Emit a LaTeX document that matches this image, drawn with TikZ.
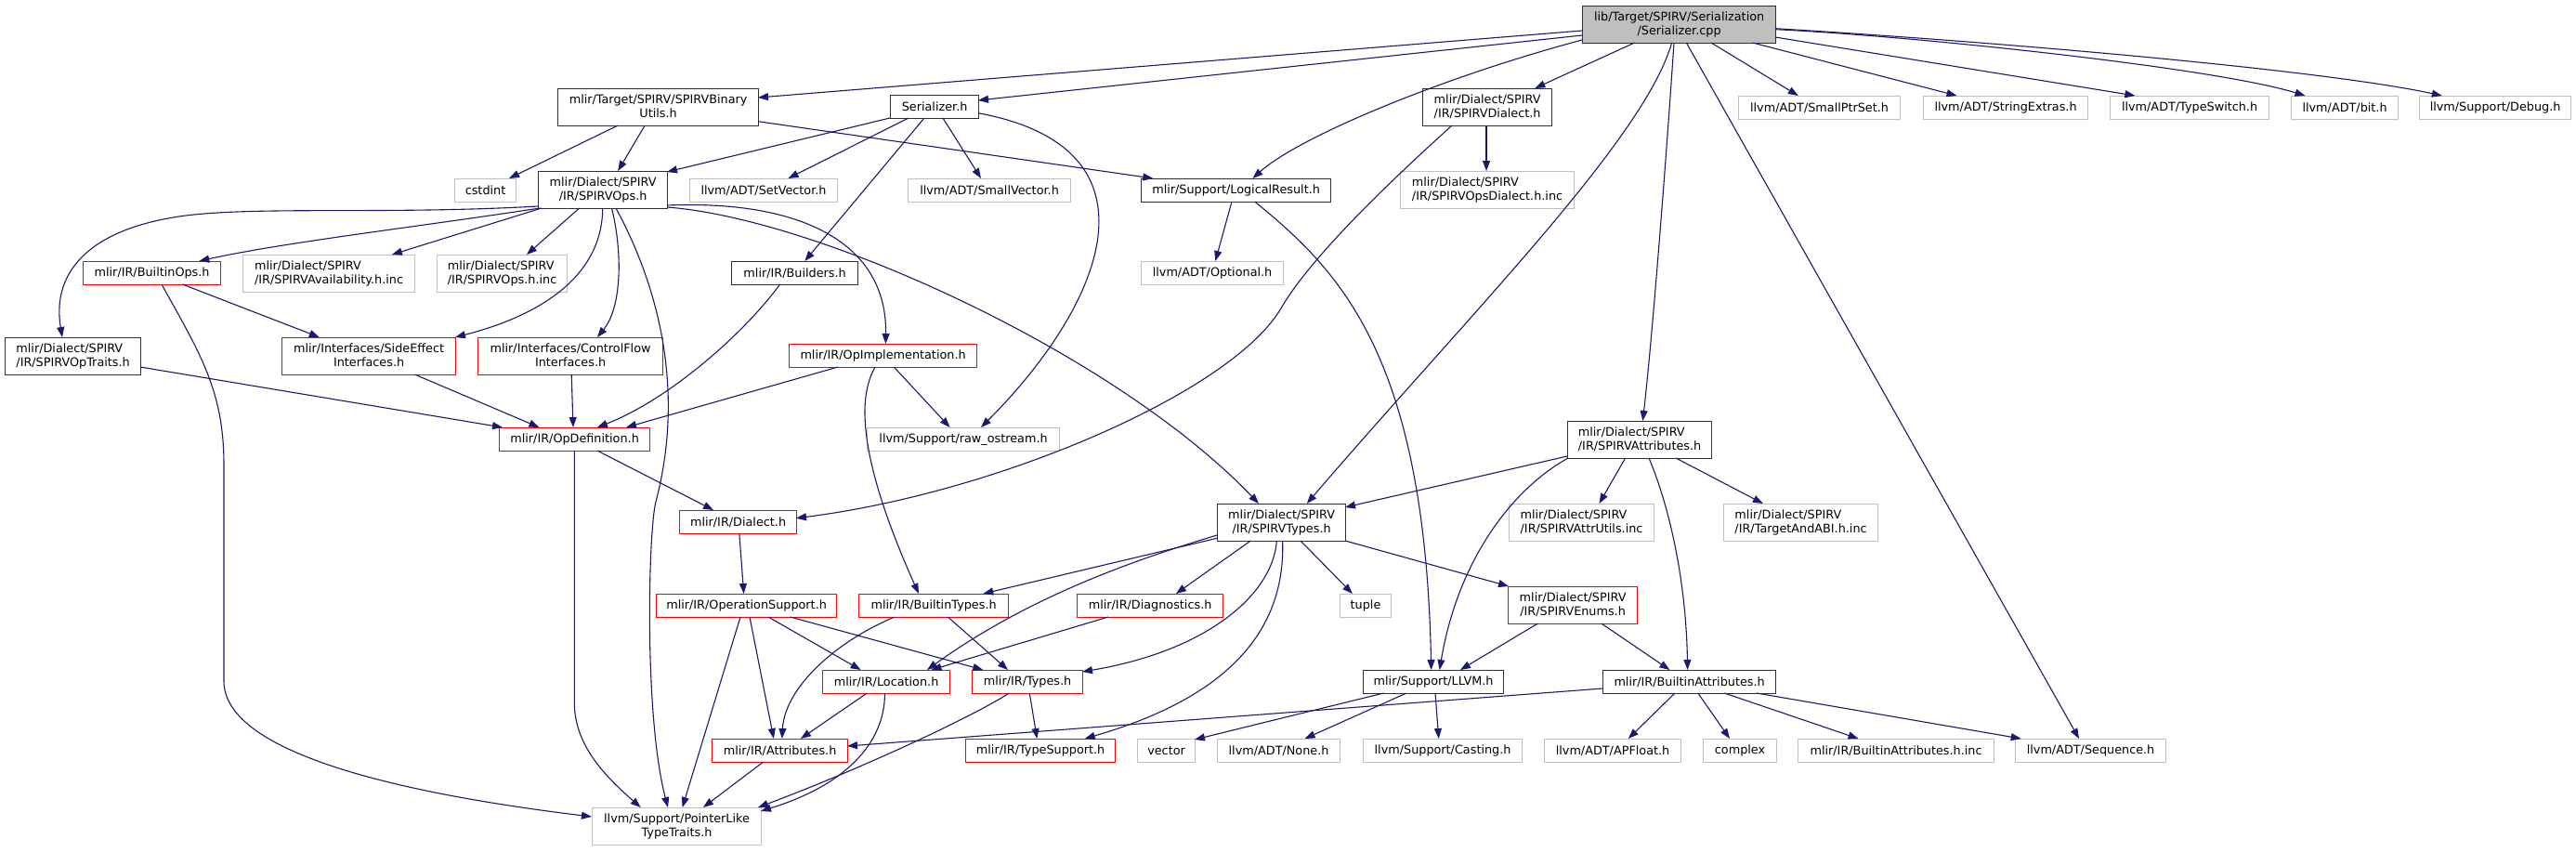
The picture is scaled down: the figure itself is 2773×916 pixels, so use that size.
\documentclass[tikz,border=0pt]{standalone}
\usepackage{fontspec}
\setmainfont{DejaVu Sans}
\usetikzlibrary{arrows.meta}
\definecolor{edgec}{HTML}{191970}
\definecolor{graybd}{HTML}{BFBFBF}
\definecolor{redbd}{HTML}{FF0000}
\definecolor{blackbd}{HTML}{303030}
\definecolor{rootfill}{HTML}{BFBFBF}
\newcommand{\twoline}[2]{\begin{tabular}{@{}l@{}}#1\\\multicolumn{1}{@{}c@{}}{#2}\end{tabular}}
\tikzset{
  basebox/.style={rectangle, anchor=north west, inner sep=0pt, fill=white, font=\fontsize{12.8}{15}\selectfont},
  bb/.style={basebox, draw=blackbd, line width=1.2pt},
  gb/.style={basebox, draw=graybd, line width=1.1pt},
  rb/.style={basebox, draw=redbd, line width=1.2pt},
  rootn/.style={basebox, draw=blackbd, line width=1.2pt, fill=rootfill},
  sl/.style={minimum height=25pt},
  dl/.style={minimum height=40pt},
  dep/.style={draw=edgec, line width=1.1pt, -{Triangle[length=11pt,width=8pt]}}
}
\begin{document}
\begin{tikzpicture}[x=1pt,y=-1pt]
\useasboundingbox[fill=white] (0,0) rectangle (2773,916);
% nodes
\node[rootn, dl, minimum width=208] (root) at (1703,6) {\twoline{lib/Target/SPIRV/Serialization}{/Serializer.cpp}};
\node[bb, dl, minimum width=216] (bin) at (600,95) {\twoline{mlir/Target/SPIRV/SPIRVBinary}{Utils.h}};
\node[bb, sl, minimum width=95] (ser) at (958,102) {Serializer.h};
\node[bb, dl, minimum width=139] (dialh) at (1531,95) {\twoline{mlir/Dialect/SPIRV}{/IR/SPIRVDialect.h}};
\node[gb, sl, minimum width=174] (smallptr) at (1871,103) {llvm/ADT/SmallPtrSet.h};
\node[gb, sl, minimum width=177] (strext) at (2070,103) {llvm/ADT/StringExtras.h};
\node[gb, sl, minimum width=171] (typesw) at (2271,103) {llvm/ADT/TypeSwitch.h};
\node[gb, sl, minimum width=115] (bit) at (2466,103) {llvm/ADT/bit.h};
\node[gb, sl, minimum width=163] (debug) at (2604,103) {llvm/Support/Debug.h};
\node[gb, sl, minimum width=66] (cstdint) at (489,192) {cstdint};
\node[bb, dl, minimum width=139] (ops) at (579,184) {\twoline{mlir/Dialect/SPIRV}{/IR/SPIRVOps.h}};
\node[gb, sl, minimum width=159] (setvec) at (742,192) {llvm/ADT/SetVector.h};
\node[gb, sl, minimum width=175] (smallvec) at (977,192) {llvm/ADT/SmallVector.h};
\node[bb, sl, minimum width=204] (logres) at (1228,192) {mlir/Support/LogicalResult.h};
\node[gb, dl, minimum width=187] (opsdial) at (1507,184) {\twoline{mlir/Dialect/SPIRV}{/IR/SPIRVOpsDialect.h.inc}};
\node[rb, sl, minimum width=148] (bops) at (89,281) {mlir/IR/BuiltinOps.h};
\node[gb, dl, minimum width=185] (avail) at (261,274) {\twoline{mlir/Dialect/SPIRV}{/IR/SPIRVAvailability.h.inc}};
\node[gb, dl, minimum width=140] (opsinc) at (470,274) {\twoline{mlir/Dialect/SPIRV}{/IR/SPIRVOps.h.inc}};
\node[bb, sl, minimum width=136] (builders) at (787,281) {mlir/IR/Builders.h};
\node[gb, sl, minimum width=153] (optional) at (1228,281) {llvm/ADT/Optional.h};
\node[bb, dl, minimum width=146] (traits) at (5,363) {\twoline{mlir/Dialect/SPIRV}{/IR/SPIRVOpTraits.h}};
\node[rb, dl, minimum width=187] (sideeff) at (303,363) {\twoline{mlir/Interfaces/SideEffect}{Interfaces.h}};
\node[rb, dl, minimum width=199] (ctrlflow) at (514,363) {\twoline{mlir/Interfaces/ControlFlow}{Interfaces.h}};
\node[rb, sl, minimum width=202] (opimpl) at (849,370) {mlir/IR/OpImplementation.h};
\node[rb, sl, minimum width=162] (opdef) at (537,460) {mlir/IR/OpDefinition.h};
\node[gb, sl, minimum width=207] (rawos) at (933,460) {llvm/Support/raw\_ostream.h};
\node[bb, dl, minimum width=155] (attrs) at (1687,453) {\twoline{mlir/Dialect/SPIRV}{/IR/SPIRVAttributes.h}};
\node[rb, sl, minimum width=126] (dialect) at (731,549) {mlir/IR/Dialect.h};
\node[bb, dl, minimum width=138] (types) at (1310,542) {\twoline{mlir/Dialect/SPIRV}{/IR/SPIRVTypes.h}};
\node[gb, dl, minimum width=156] (attrutils) at (1624,542) {\twoline{mlir/Dialect/SPIRV}{/IR/SPIRVAttrUtils.inc}};
\node[gb, dl, minimum width=166] (tabi) at (1855,542) {\twoline{mlir/Dialect/SPIRV}{/IR/TargetAndABI.h.inc}};
\node[rb, sl, minimum width=194] (opsup) at (706,639) {mlir/IR/OperationSupport.h};
\node[rb, sl, minimum width=161] (btypes) at (924,639) {mlir/IR/BuiltinTypes.h};
\node[rb, sl, minimum width=157] (diag) at (1159,639) {mlir/IR/Diagnostics.h};
\node[gb, sl, minimum width=55] (tuple) at (1442,639) {tuple};
\node[rb, dl, minimum width=139] (enums) at (1623,631) {\twoline{mlir/Dialect/SPIRV}{/IR/SPIRVEnums.h}};
\node[rb, sl, minimum width=137] (loc) at (885,721) {mlir/IR/Location.h};
\node[rb, sl, minimum width=119] (typesh) at (1046,721) {mlir/IR/Types.h};
\node[bb, sl, minimum width=151] (llvmh) at (1467,721) {mlir/Support/LLVM.h};
\node[bb, sl, minimum width=186] (battrs) at (1725,721) {mlir/IR/BuiltinAttributes.h};
\node[rb, sl, minimum width=146] (attrh) at (766,795) {mlir/IR/Attributes.h};
\node[rb, sl, minimum width=161] (tsup) at (1039,795) {mlir/IR/TypeSupport.h};
\node[gb, sl, minimum width=62] (vector) at (1224,795) {vector};
\node[gb, sl, minimum width=132] (none) at (1310,795) {llvm/ADT/None.h};
\node[gb, sl, minimum width=171] (casting) at (1467,795) {llvm/Support/Casting.h};
\node[gb, sl, minimum width=147] (apfloat) at (1662,795) {llvm/ADT/APFloat.h};
\node[gb, sl, minimum width=79] (complex) at (1833,795) {complex};
\node[gb, sl, minimum width=211] (binc) at (1935,795) {mlir/IR/BuiltinAttributes.h.inc};
\node[gb, sl, minimum width=162] (seq) at (2169,795) {llvm/ADT/Sequence.h};
\node[gb, dl, minimum width=182] (ptr) at (637,869) {\twoline{llvm/Support/PointerLike}{TypeTraits.h}};
% edges from root
\draw[dep] ([shift={(0,27)}]root.north west) -- ([shift={(216,10)}]bin.north west);
\draw[dep] ([shift={(0,32)}]root.north west) -- ([shift={(95,6)}]ser.north west);
\draw[dep] ([shift={(0,37)}]root.north west) .. controls +(-150,40) and +(50,-45) .. ([shift={(120.5,0)}]logres.north west);
\draw[dep] ([shift={(56.5,40)}]root.north west) -- ([shift={(121.3,0)}]dialh.north west);
\draw[dep] ([shift={(96.6,40)}]root.north west) .. controls +(-29.6,104) and +(173.2,-202) .. ([shift={(96.8,0)}]types.north west);
\draw[dep] ([shift={(99,40)}]root.north west) .. controls +(-7,104) and +(11.6,-103) .. ([shift={(81.4,0)}]attrs.north west);
\draw[dep] ([shift={(112.3,40)}]root.north west) -- ([shift={(69,0)}]seq.north west);
\draw[dep] ([shift={(139,40)}]root.north west) -- ([shift={(64.8,0)}]smallptr.north west);
\draw[dep] ([shift={(183.7,40)}]root.north west) -- ([shift={(36.5,0)}]strext.north west);
\draw[dep] ([shift={(208,34)}]root.north west) -- ([shift={(27.4,0)}]typesw.north west);
\draw[dep] ([shift={(208,25.7)}]root.north west) .. controls +(139,6.3) and +(-101.5,-31) .. ([shift={(15.5,0)}]bit.north west);
\draw[dep] ([shift={(208,24.7)}]root.north west) .. controls +(239,14.3) and +(-128.8,-28) .. ([shift={(24.8,0)}]debug.north west);
% bin
\draw[dep] ([shift={(65.2,40)}]bin.north west) -- ([shift={(59,0)}]cstdint.north west);
\draw[dep] ([shift={(94.2,40)}]bin.north west) -- ([shift={(86.2,0)}]ops.north west);
\draw[dep] ([shift={(216,35.7)}]bin.north west) -- ([shift={(13.3,0)}]logres.north west);
% ser
\draw[dep] ([shift={(0,25)}]ser.north west) -- ([shift={(139,1)}]ops.north west);
\draw[dep] ([shift={(20,25)}]ser.north west) -- ([shift={(106.5,0)}]setvec.north west);
\draw[dep] ([shift={(37,25)}]ser.north west) -- ([shift={(79.3,0)}]builders.north west);
\draw[dep] ([shift={(57,25)}]ser.north west) -- ([shift={(79,0)}]smallvec.north west);
\draw[dep] ([shift={(95,19.7)}]ser.north west) .. controls +(207,38.3) and +(130,-130) .. ([shift={(123,0)}]rawos.north west);
% dialh
\draw[dep] ([shift={(69,40)}]dialh.north west) -- ([shift={(93,0)}]opsdial.north west);
\draw[dep] ([shift={(32,40)}]dialh.north west) .. controls +(-83,75) and +(30,-50) .. ++(-183,195) .. controls +(-50,90) and +(220,-27.7) .. ([shift={(126,8.7)}]dialect.north west);
% logres
\draw[dep] ([shift={(98,25)}]logres.north west) -- ([shift={(80.3,0)}]optional.north west);
\draw[dep] ([shift={(122.7,25)}]logres.north west) .. controls +(89.3,73) and +(-6.7,-341) .. ([shift={(73.7,0)}]llvmh.north west);
% ops
\draw[dep] ([shift={(0,38)}]ops.north west) .. controls +(-159,9) and +(80,-10) .. ++(-379,10) .. controls +(-100,13) and +(-12,-73) .. ([shift={(62,0)}]traits.north west);
\draw[dep] ([shift={(2,40)}]ops.north west) .. controls +(-130,20) and +(90,-20) .. ([shift={(125.3,0)}]bops.north west);
\draw[dep] ([shift={(4,40)}]ops.north west) -- ([shift={(160.9,0)}]avail.north west);
\draw[dep] ([shift={(44.7,40)}]ops.north west) -- ([shift={(97,0)}]opsinc.north west);
\draw[dep] ([shift={(69.7,40)}]ops.north west) .. controls +(0,65) and +(105,-27) .. ([shift={(187,0)}]sideeff.north west);
\draw[dep] ([shift={(79.5,40)}]ops.north west) .. controls +(11.5,46) and +(27,-33) .. ([shift={(128.9,0)}]ctrlflow.north west);
\draw[dep] ([shift={(84,40)}]ops.north west) .. controls +(52,96) and +(29,-110) .. ++(43,316) .. controls +(-8,30) and +(-26,-99) .. ([shift={(82,0)}]ptr.north west);
\draw[dep] ([shift={(139,37)}]ops.north west) .. controls +(142,-6) and +(1.6,-110) .. ([shift={(104.4,0)}]opimpl.north west);
\draw[dep] ([shift={(139,39)}]ops.north west) .. controls +(162,12) and +(-155,-162) .. ([shift={(45,0)}]types.north west);
% bops
\draw[dep] ([shift={(107.4,25)}]bops.north west) -- ([shift={(40.8,0)}]sideeff.north west);
\draw[dep] ([shift={(85,25)}]bops.north west) .. controls +(41,74) and +(0,-80) .. ++(67,194) -- ++(0,233) .. controls +(0,87) and +(-156,-19) .. ([shift={(0,10)}]ptr.north west);
% into opdef
\draw[dep] ([shift={(146,32)}]traits.north west) -- ([shift={(4,0)}]opdef.north west);
\draw[dep] ([shift={(143.4,40)}]sideeff.north west) -- ([shift={(43.4,0)}]opdef.north west);
\draw[dep] ([shift={(101.2,40)}]ctrlflow.north west) -- ([shift={(80,0)}]opdef.north west);
\draw[dep] ([shift={(52.6,25)}]builders.north west) .. controls +(-39.6,54) and +(77,-30) .. ([shift={(105.9,0)}]opdef.north west);
% opimpl
\draw[dep] ([shift={(53,25)}]opimpl.north west) -- ([shift={(137,0)}]opdef.north west);
\draw[dep] ([shift={(113.3,25)}]opimpl.north west) -- ([shift={(89.6,0)}]rawos.north west);
\draw[dep] ([shift={(93.2,25)}]opimpl.north west) .. controls +(-27,45) and +(-49,-109) .. ([shift={(65,0)}]btypes.north west);
% opdef
\draw[dep] ([shift={(105.9,25)}]opdef.north west) -- ([shift={(37,0)}]dialect.north west);
\draw[dep] ([shift={(81.3,25)}]opdef.north west) -- ++(0,271) .. controls +(0,45) and +(-40,-35) .. ([shift={(52.7,0)}]ptr.north west);
% dialect
\draw[dep] ([shift={(64.8,25)}]dialect.north west) -- ([shift={(94.7,0)}]opsup.north west);
% SPIRV types
\draw[dep] ([shift={(0,37.3)}]types.north west) -- ([shift={(134.3,0)}]btypes.north west);
\draw[dep] ([shift={(0,34)}]types.north west) .. controls +(-80,24) and +(112,-81) .. ([shift={(113,0)}]loc.north west);
\draw[dep] ([shift={(36.3,40)}]types.north west) -- ([shift={(106.9,0)}]diag.north west);
\draw[dep] ([shift={(64.4,40)}]types.north west) .. controls +(-4.4,58) and +(134.6,-22.7) .. ([shift={(119,2)}]typesh.north west);
\draw[dep] ([shift={(70.6,40)}]types.north west) .. controls +(4.4,118) and +(122.3,-35.3) .. ([shift={(128.7,0)}]tsup.north west);
\draw[dep] ([shift={(90,40)}]types.north west) -- ([shift={(13.9,0)}]tuple.north west);
\draw[dep] ([shift={(138,40)}]types.north west) -- ([shift={(1,0)}]enums.north west);
% SPIRV attributes
\draw[dep] ([shift={(0,38)}]attrs.north west) -- ([shift={(138,4)}]types.north west);
\draw[dep] ([shift={(1,40)}]attrs.north west) .. controls +(-58,32) and +(20.4,-121) .. ([shift={(82.6,0)}]llvmh.north west);
\draw[dep] ([shift={(62.6,40)}]attrs.north west) -- ([shift={(97.5,0)}]attrutils.north west);
\draw[dep] ([shift={(88,40)}]attrs.north west) .. controls +(20,47) and +(-1.6,-101) .. ([shift={(91.6,0)}]battrs.north west);
\draw[dep] ([shift={(117,40)}]attrs.north west) -- ([shift={(42.9,0)}]tabi.north west);
% opsup
\draw[dep] ([shift={(91,25)}]opsup.north west) -- ([shift={(97.6,0)}]ptr.north west);
\draw[dep] ([shift={(101,25)}]opsup.north west) -- ([shift={(66.9,0)}]attrh.north west);
\draw[dep] ([shift={(121,25)}]opsup.north west) -- ([shift={(41.6,0)}]loc.north west);
\draw[dep] ([shift={(144.7,25)}]opsup.north west) -- ([shift={(12.3,0)}]typesh.north west);
% btypes, diag, enums
\draw[dep] ([shift={(39.2,25)}]btypes.north west) .. controls +(-63,26) and +(3,-55) .. ([shift={(75.8,0)}]attrh.north west);
\draw[dep] ([shift={(96.4,25)}]btypes.north west) -- ([shift={(39,0)}]typesh.north west);
\draw[dep] ([shift={(34,25)}]diag.north west) -- ([shift={(117.5,0)}]loc.north west);
\draw[dep] ([shift={(32.4,40)}]enums.north west) -- ([shift={(105,0)}]llvmh.north west);
\draw[dep] ([shift={(100.8,40)}]enums.north west) -- ([shift={(72.4,0)}]battrs.north west);
% loc, typesh, attrh
\draw[dep] ([shift={(48.3,25)}]loc.north west) -- ([shift={(95.9,0)}]attrh.north west);
\draw[dep] ([shift={(67.5,25)}]loc.north west) .. controls +(0,54) and +(91,-28) .. ([shift={(182,4)}]ptr.north west);
\draw[dep] ([shift={(62.3,25)}]typesh.north west) -- ([shift={(77.3,0)}]tsup.north west);
\draw[dep] ([shift={(40.4,25)}]typesh.north west) .. controls +(-46,29) and +(104,-39) .. ([shift={(179,0)}]ptr.north west);
\draw[dep] ([shift={(55.7,25)}]attrh.north west) -- ([shift={(120,0)}]ptr.north west);
% llvmh
\draw[dep] ([shift={(22.4,25)}]llvmh.north west) -- ([shift={(62,1)}]vector.north west);
\draw[dep] ([shift={(47,25)}]llvmh.north west) -- ([shift={(94.6,0)}]none.north west);
\draw[dep] ([shift={(78,25)}]llvmh.north west) -- ([shift={(81.75,0)}]casting.north west);
% battrs
\draw[dep] ([shift={(0,20)}]battrs.north west) -- ([shift={(146,8)}]attrh.north west);
\draw[dep] ([shift={(78,25)}]battrs.north west) -- ([shift={(90.8,0)}]apfloat.north west);
\draw[dep] ([shift={(102.8,25)}]battrs.north west) -- ([shift={(29,0)}]complex.north west);
\draw[dep] ([shift={(131.3,25)}]battrs.north west) -- ([shift={(65.5,0)}]binc.north west);
\draw[dep] ([shift={(166,25)}]battrs.north west) -- ([shift={(6.7,0)}]seq.north west);
\end{tikzpicture}
\end{document}
